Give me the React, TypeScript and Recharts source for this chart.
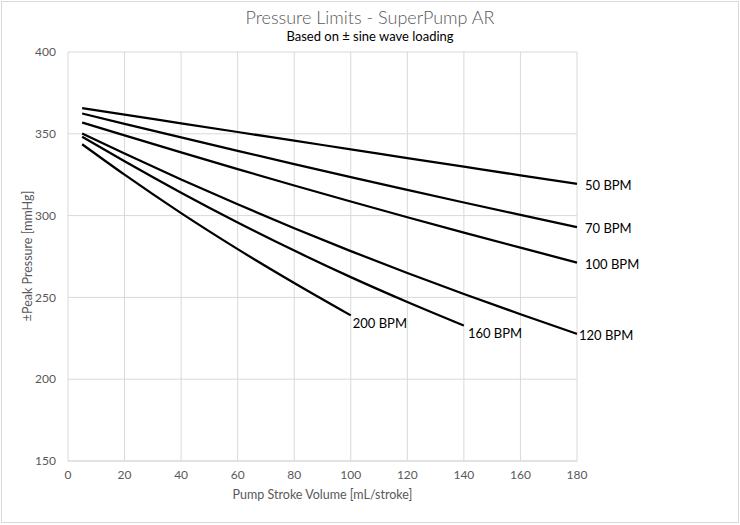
import React from 'react'
import { LineChart, Line, XAxis, YAxis, CartesianGrid, LabelList } from 'recharts'

// stroke volume [mL/stroke] sampled along each curve
const volumes = [5, 20, 40, 60, 80, 100, 120, 140, 160, 180]

// peak pressure [mmHg] per heart rate
const bpm50 = [365.7, 361.7, 356.4, 351.1, 345.8, 340.5, 335.2, 329.9, 324.6, 319.4]
const bpm70 = [362.4, 356.1, 347.8, 339.6, 331.5, 323.5, 315.7, 308, 300.4, 292.9]
const bpm100 = [356.9, 349, 338.6, 328.4, 318.4, 308.6, 299, 289.6, 280.4, 271.3]
const bpm120 = [350.2, 337.9, 322.1, 306.9, 292.3, 278.3, 264.9, 252.1, 239.7, 227.7]
const bpm160 = [348.2, 333.2, 314, 295.8, 278.6, 262.4, 247.2, 232.8]
const bpm200 = [343.6, 325, 301.5, 279.5, 258.8, 239]

const seriesNames = ['50 BPM', '70 BPM', '100 BPM', '120 BPM', '160 BPM', '200 BPM']
const seriesValues = [bpm50, bpm70, bpm100, bpm120, bpm160, bpm200]

const xTicks = [0, 20, 40, 60, 80, 100, 120, 140, 160, 180]
const yTicks = [150, 200, 250, 300, 350, 400]

// where each end label sits relative to the last point
const labelOffsets = [
  { dx: 8, dy: 1 },
  { dx: 8, dy: 0.5 },
  { dx: 8, dy: 1 },
  { dx: 2, dy: 1 },
  { dx: 4, dy: 7 },
  { dx: 2, dy: 8 },
]

const FONT = 'Lato, "Open Sans", sans-serif'
const GREY = '#595959'

const toPoints = (vals: number[], name: string) =>
  vals.map((p, i) => ({ x: volumes[i], p, tag: i === vals.length - 1 ? name : undefined }))

const endLabel = (off: { dx: number; dy: number }) => (props: any) => {
  if (!props.value) return null
  const x = props.x ?? props.viewBox?.x
  const y = props.y ?? props.viewBox?.y
  return (
    <text
      x={x + off.dx}
      y={y + off.dy}
      dominantBaseline="central"
      fontFamily={FONT}
      fontSize={13}
      fill="#000"
    >
      {props.value}
    </text>
  )
}

export default function App() {
  return (
    <div
      style={{
        position: 'absolute',
        left: 0,
        top: 0,
        width: 740,
        height: 525,
        background: '#fff',
        fontFamily: FONT,
      }}
    >
      <div
        style={{
          position: 'absolute',
          left: 1,
          top: 1,
          width: 736,
          height: 520,
          border: '1px solid #d9d9d9',
        }}
      />
      <div
        style={{
          position: 'absolute',
          top: 6,
          left: 0,
          width: 740,
          textAlign: 'center',
          fontSize: 18,
          fontWeight: 300,
          color: GREY,
        }}
      >
        Pressure Limits - SuperPump AR
      </div>
      <div
        style={{
          position: 'absolute',
          top: 28,
          left: 0,
          width: 740,
          textAlign: 'center',
          fontSize: 13,
          color: '#000',
        }}
      >
        Based on ± sine wave loading
      </div>

      <LineChart
        width={740}
        height={525}
        margin={{ top: 52, right: 163, bottom: 34, left: 38 }}
      >
        <CartesianGrid stroke="#d9d9d9" strokeWidth={1} />
        <XAxis
          dataKey="x"
          type="number"
          domain={[0, 180]}
          ticks={xTicks}
          interval={0}
          height={30}
          tickLine={false}
          axisLine={{ stroke: '#d9d9d9' }}
          tickMargin={3}
          tick={{ fill: GREY, fontSize: 12, fontFamily: FONT }}
        />
        <YAxis
          type="number"
          domain={[150, 400]}
          ticks={yTicks}
          interval={0}
          width={30}
          tickLine={false}
          axisLine={false}
          tickMargin={6}
          tick={{ fill: GREY, fontSize: 12, fontFamily: FONT }}
        />
        {seriesValues.map((vals, i) => (
          <Line
            key={seriesNames[i]}
            data={toPoints(vals, seriesNames[i])}
            dataKey="p"
            type="monotone"
            stroke="#000"
            strokeWidth={2.25}
            dot={false}
            isAnimationActive={false}
          >
            <LabelList dataKey="tag" content={endLabel(labelOffsets[i])} />
          </Line>
        ))}
      </LineChart>

      <div
        style={{
          position: 'absolute',
          top: 487,
          left: 68,
          width: 509,
          textAlign: 'center',
          fontSize: 12.5,
          color: GREY,
        }}
      >
        Pump Stroke Volume [mL/stroke]
      </div>
      <div
        style={{
          position: 'absolute',
          left: 27,
          top: 256,
          transform: 'translate(-50%, -50%) rotate(-90deg)',
          whiteSpace: 'nowrap',
          fontSize: 12.5,
          color: GREY,
        }}
      >
        ±Peak Pressure [mmHg]
      </div>
    </div>
  )
}
